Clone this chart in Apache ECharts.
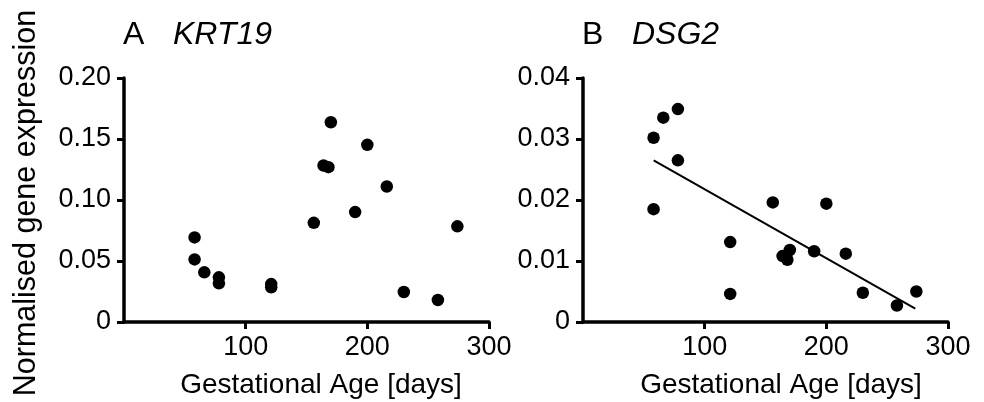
<!DOCTYPE html>
<html>
<head>
<meta charset="utf-8">
<script src="https://cdn.jsdelivr.net/npm/echarts@6/dist/echarts.min.js"></script>
<style>
html,body{margin:0;padding:0;background:#fff;}
#chart{width:984px;height:402px;}
</style>
</head>
<body>
<div id="chart"></div>
<script>
// Gestational age (days) of each sample
const agesKRT19 = [58, 58, 66, 78, 78, 121, 121, 156, 164, 168, 170, 190, 200, 216, 230, 258, 274];
const exprKRT19 = [0.0693, 0.0513, 0.0407, 0.0366, 0.0317, 0.0311, 0.0284, 0.0813, 0.1283, 0.1269, 0.1637, 0.0901, 0.1452, 0.1111, 0.0246, 0.0180, 0.0784];

const agesDSG2 = [58, 58, 66, 78, 78, 121, 121, 156, 164, 168, 170, 190, 200, 216, 230, 258, 274];
const exprDSG2 = [0.0302, 0.0185, 0.0335, 0.0349, 0.0265, 0.0131, 0.0046, 0.0196, 0.0108, 0.0102, 0.0118, 0.0116, 0.0194, 0.0112, 0.0048, 0.0027, 0.0050];

// Linear fit line endpoints
const fitDSG2X = [58.1, 273.1];
const fitDSG2Y = [0.0265, 0.0022];

const xTicks = [0, 100, 200, 300];
const yTicksKRT19 = [0, 0.05, 0.10, 0.15, 0.20];
const yTicksDSG2 = [0, 0.01, 0.02, 0.03, 0.04];

const panelTitles = [['A', 'KRT19'], ['B', 'DSG2']];
const xAxisTitle = 'Gestational Age [days]';
const yAxisTitle = 'Normalised gene expression';

const FONT = '"Liberation Sans", Arial, Helvetica, sans-serif';

function zip(xs, ys) { return xs.map((x, i) => [x, ys[i]]); }

const chart = echarts.init(document.getElementById('chart'), null, {renderer: 'canvas'});

function xAxisCfg(gi) {
  return {
    gridIndex: gi, type: 'value',
    min: xTicks[0], max: xTicks[xTicks.length - 1], interval: xTicks[1] - xTicks[0],
    splitLine: {show: false},
    axisLine: {show: true, onZero: false, lineStyle: {color: '#000', width: 3.5, opacity: 1}},
    axisTick: {show: true, length: 7, lineStyle: {color: '#000', width: 3, opacity: 1}},
    axisLabel: {showMinLabel: false, color: '#000', fontFamily: FONT, fontSize: 27, margin: 12},
  };
}
function yAxisCfg(gi, ticks) {
  return {
    gridIndex: gi, type: 'value',
    min: ticks[0], max: ticks[ticks.length - 1], interval: ticks[1] - ticks[0],
    splitLine: {show: false},
    axisLine: {show: true, onZero: false, lineStyle: {color: '#000', width: 3.5, opacity: 1}},
    axisTick: {show: true, length: 7, lineStyle: {color: '#000', width: 3, opacity: 1}},
    axisLabel: {
      color: '#000', fontFamily: FONT, fontSize: 27, margin: 13,
      formatter: v => (Math.abs(v) < 1e-9 ? '0' : v.toFixed(2))
    },
  };
}

const titleGraphics = [];
const titlePos = [[123, 173], [582, 632]];
panelTitles.forEach((t, i) => {
  titleGraphics.push({
    type: 'text', left: titlePos[i][0], top: 19,
    style: {text: t[0], font: '32px ' + FONT, fill: '#000'}
  });
  titleGraphics.push({
    type: 'text', left: titlePos[i][1], top: 19,
    style: {text: t[1], font: 'italic 32px ' + FONT, fill: '#000'}
  });
});

const option = {
  backgroundColor: '#fff',
  animation: false,
  grid: [
    {left: 124, right: 984 - 489, top: 78, bottom: 80, outerBoundsMode: 'none', containLabel: false},
    {left: 583, right: 984 - 948, top: 78, bottom: 80, outerBoundsMode: 'none', containLabel: false}
  ],
  xAxis: [xAxisCfg(0), xAxisCfg(1)],
  yAxis: [yAxisCfg(0, yTicksKRT19), yAxisCfg(1, yTicksDSG2)],
  graphic: titleGraphics.concat([
    {
      type: 'text', x: 27, y: 203, rotation: Math.PI / 2,
      style: {text: yAxisTitle, font: '30.5px ' + FONT, fill: '#000', align: 'center', verticalAlign: 'middle'}
    },
    {
      type: 'text', x: 321, y: 385,
      style: {text: xAxisTitle, font: '28px ' + FONT, fill: '#000', align: 'center', verticalAlign: 'middle'}
    },
    {
      type: 'text', x: 781, y: 385,
      style: {text: xAxisTitle, font: '28px ' + FONT, fill: '#000', align: 'center', verticalAlign: 'middle'}
    }
  ]),
  series: [
    {
      type: 'scatter', xAxisIndex: 0, yAxisIndex: 0,
      data: zip(agesKRT19, exprKRT19),
      symbol: 'circle', symbolSize: 12.5,
      itemStyle: {color: '#000', opacity: 1}
    },
    {
      type: 'scatter', xAxisIndex: 1, yAxisIndex: 1,
      data: zip(agesDSG2, exprDSG2),
      symbol: 'circle', symbolSize: 12.5,
      itemStyle: {color: '#000', opacity: 1}
    },
    {
      type: 'line', xAxisIndex: 1, yAxisIndex: 1,
      data: zip(fitDSG2X, fitDSG2Y),
      symbol: 'none', lineStyle: {color: '#000', width: 2}
    }
  ]
};
chart.setOption(option);
</script>
</body>
</html>
